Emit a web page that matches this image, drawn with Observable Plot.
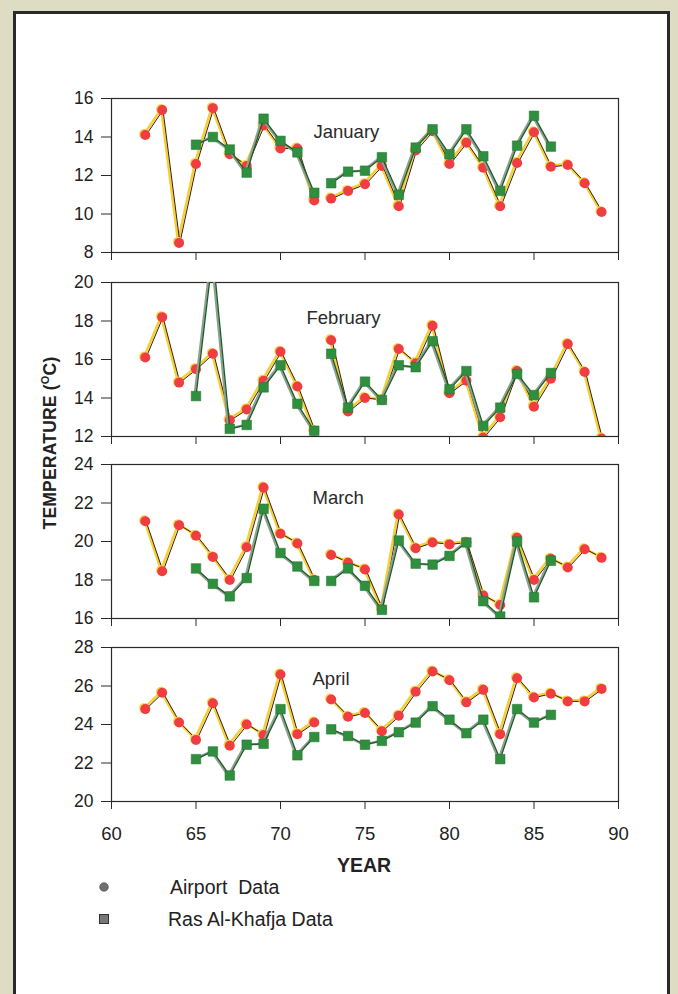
<!DOCTYPE html>
<html>
<head>
<meta charset="utf-8">
<script src="https://cdn.jsdelivr.net/npm/d3@7"></script>
<script src="https://cdn.jsdelivr.net/npm/@observablehq/plot@0.6"></script>
<style>
  html, body { margin: 0; padding: 0; }
  body { width: 678px; height: 994px; background: #dedcc2; overflow: hidden; font-family: "Liberation Sans", Arial, sans-serif; }
  #page { position: absolute; left: 13px; top: 11px; width: 657px; height: 990px; background: #fff; border: 3px solid #2a2a2a; box-sizing: border-box; }
  .panel { position: absolute; left: 0; }
  .ytitle { position: absolute; left: 50px; top: 443px; transform: translate(-50%, -50%) rotate(-90deg); font-weight: bold; font-size: 17.5px; color: #222; white-space: nowrap; letter-spacing: 0.2px; }
  .ytitle sup { font-size: 11px; vertical-align: 7px; }
  .xtitle { position: absolute; left: 364px; top: 865px; transform: translate(-50%, -50%); font-weight: bold; font-size: 19.5px; color: #222; }
  .leg { position: absolute; font-size: 19.5px; color: #222; white-space: pre; transform: translateY(-50%); }
  .legsym { position: absolute; }
</style>
</head>
<body>
<div id="page"></div>
<div id="root"></div>
<script>
// Years
const airportYears = [62, 63, 64, 65, 66, 67, 68, 69, 70, 71, 72, 73, 74, 75, 76, 77, 78, 79, 80, 81, 82, 83, 84, 85, 86, 87, 88, 89];
const khafjaYears  = [65, 66, 67, 68, 69, 70, 71, 72, 73, 74, 75, 76, 77, 78, 79, 80, 81, 82, 83, 84, 85, 86];

// Airport data (°C)
const janAirport = [14.1, 15.4, 8.5, 12.6, 15.5, 13.1, 12.5, 14.6, 13.4, 13.4, 10.7, 10.8, 11.2, 11.55, 12.5, 10.4, 13.3, 14.3, 12.6, 13.7, 12.4, 10.4, 12.65, 14.25, 12.45, 12.55, 11.6, 10.1];
const febAirport = [16.1, 18.2, 14.8, 15.5, 16.3, 12.85, 13.4, 14.9, 16.4, 14.6, 12.3, 17.0, 13.3, 14.0, 13.9, 16.55, 15.8, 17.75, 14.25, 14.9, 11.95, 13.0, 15.4, 13.55, 15.0, 16.8, 15.35, 11.9];
const marAirport = [21.05, 18.45, 20.85, 20.3, 19.2, 18.0, 19.7, 22.8, 20.4, 19.9, 18.0, 19.3, 18.9, 18.55, 16.5, 21.4, 19.65, 19.95, 19.85, 19.95, 17.2, 16.7, 20.2, 18.0, 19.1, 18.65, 19.6, 19.15];
const aprAirport = [24.8, 25.65, 24.1, 23.2, 25.1, 22.9, 24.0, 23.45, 26.6, 23.5, 24.1, 25.3, 24.4, 24.6, 23.65, 24.45, 25.7, 26.75, 26.3, 25.15, 25.8, 23.5, 26.4, 25.4, 25.6, 25.2, 25.2, 25.85];

// Ras Al-Khafja data (°C)
const janKhafja = [13.6, 14.0, 13.35, 12.15, 14.95, 13.8, 13.2, 11.1, 11.6, 12.2, 12.25, 12.95, 11.0, 13.45, 14.4, 13.1, 14.4, 13.0, 11.2, 13.55, 15.1, 13.5];
const febKhafja = [14.1, 21.5, 12.4, 12.6, 14.55, 15.7, 13.7, 12.3, 16.3, 13.5, 14.85, 13.9, 15.7, 15.6, 16.95, 14.45, 15.4, 12.55, 13.5, 15.25, 14.15, 15.3];
const marKhafja = [18.6, 17.8, 17.15, 18.1, 21.7, 19.4, 18.7, 17.95, 17.95, 18.6, 17.7, 16.45, 20.05, 18.85, 18.8, 19.25, 19.95, 16.9, 16.1, 20.0, 17.1, 19.0];
const aprKhafja = [22.2, 22.6, 21.35, 22.95, 23.0, 24.8, 22.4, 23.35, 23.75, 23.4, 22.95, 23.15, 23.6, 24.1, 24.95, 24.25, 23.55, 24.25, 22.2, 24.8, 24.1, 24.5];

const months = ["January", "February", "March", "April"];
const yDomains = [[8, 16], [12, 20], [16, 24], [20, 28]];
const yTicks = [[8, 10, 12, 14, 16], [12, 14, 16, 18, 20], [16, 18, 20, 22, 24], [20, 22, 24, 26, 28]];
const xTicks = [60, 65, 70, 75, 80, 85, 90];
const xDomain = [60, 90];
const airportSeries = [janAirport, febAirport, marAirport, aprAirport];
const khafjaSeries = [janKhafja, febKhafja, marKhafja, aprKhafja];

// layout
const panelTops = [98, 282, 464, 647];
const titleDx = [202, 195, 201, 201];
const titleDy = [39, 41, 39, 37];
const PH = 154, MT = 4, MB = 12;

const root = document.getElementById("root");
const font = "Liberation Sans, Arial, sans-serif";

months.forEach((m, i) => {
  const last = i === months.length - 1;
  const air = airportYears.map((y, k) => ({year: y, t: airportSeries[i][k], seg: y <= 72 ? "a" : "b"}));
  const kh = khafjaYears.map((y, k) => ({year: y, t: khafjaSeries[i][k], seg: y <= 72 ? "a" : "b"}));
  const mb = last ? 60 : MB;
  const p = Plot.plot({
    width: 678,
    height: PH + MT + mb,
    marginLeft: 111,
    marginRight: 60,
    marginTop: MT,
    marginBottom: mb,
    style: {fontFamily: font, fontSize: "17px", color: "#222", background: "transparent", overflow: "visible"},
    x: {domain: xDomain},
    y: {domain: yDomains[i]},
    marks: [
      Plot.frame({stroke: "#2a2a2a", strokeWidth: 1.2}),
      Plot.axisY({ticks: yTicks[i], tickSize: 10, tickPadding: 8, label: null, fontSize: 17.5, stroke: "#2a2a2a"}),
      last
        ? Plot.axisX({ticks: xTicks, tickSize: 8, tickPadding: 17, label: null, fontSize: 18.5, stroke: "#2a2a2a", tickFormat: d3.format("d")})
        : Plot.axisX({ticks: xTicks, tickSize: 8, text: null, label: null, stroke: "#2a2a2a"}),
      Plot.text([m], {frameAnchor: "top-left", dx: titleDx[i], dy: titleDy[i], lineAnchor: "bottom", textAnchor: "start", fontSize: 18.5, fill: "#2a2a2a"}),
      // Airport
      Plot.line(air, {x: "year", y: "t", z: "seg", stroke: "#f5cf35", strokeWidth: 2.6, dx: -1, dy: -1, clip: true}),
      Plot.line(air, {x: "year", y: "t", z: "seg", stroke: "#3b1c10", strokeWidth: 1, dx: 0.8, clip: true}),
      Plot.dot(air, {x: "year", y: "t", r: 5, fill: "#f7d64c", dx: -1.2, dy: -1, clip: true}),
      Plot.dot(air, {x: "year", y: "t", r: 5, fill: "#ef3d42", clip: true}),
      // Ras Al-Khafja
      Plot.line(kh, {x: "year", y: "t", z: "seg", stroke: "#8da28d", strokeWidth: 2.4, dx: -1.5, clip: true}),
      Plot.line(kh, {x: "year", y: "t", z: "seg", stroke: "#1d5a2a", strokeWidth: 1.3, clip: true}),
      Plot.dot(kh, {x: "year", y: "t", symbol: "square", r: 5.4, fill: "#2f8f3f", stroke: "#22702f", strokeWidth: 0.5, clip: true})
    ]
  });
  p.classList.add("panel");
  p.style.top = (panelTops[i] - MT) + "px";
  root.appendChild(p);
});

// titles and legend
const yt = document.createElement("div");
yt.className = "ytitle";
yt.innerHTML = "TEMPERATURE (<sup>O</sup>C)";
root.appendChild(yt);

const xt = document.createElement("div");
xt.className = "xtitle";
xt.textContent = "YEAR";
root.appendChild(xt);

const legendLabels = ["Airport  Data", "Ras Al-Khafja Data"];
const legendTops = [887, 919];
const legendLefts = [170, 168];
legendLabels.forEach((lab, i) => {
  const t = document.createElement("div");
  t.className = "leg";
  t.style.left = legendLefts[i] + "px";
  t.style.top = legendTops[i] + "px";
  t.textContent = lab;
  root.appendChild(t);
  const s = document.createElementNS("http://www.w3.org/2000/svg", "svg");
  s.setAttribute("class", "legsym");
  s.setAttribute("width", 14); s.setAttribute("height", 14);
  s.style.left = "97px"; s.style.top = (legendTops[i] - 7) + "px";
  if (i === 0) {
    s.innerHTML = '<circle cx="7" cy="7" r="4.3" fill="#6e6e6e" stroke="#444" stroke-width="0.6"/>';
  } else {
    s.innerHTML = '<rect x="2.5" y="2.5" width="9" height="9" fill="#777" stroke="#333" stroke-width="1"/>';
  }
  root.appendChild(s);
});
</script>
</body>
</html>
